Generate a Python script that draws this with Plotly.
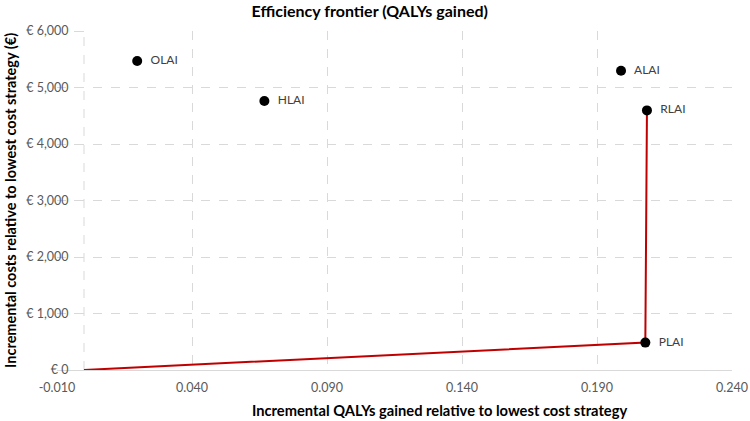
import plotly.graph_objects as go

strategies = ["OLAI", "HLAI", "ALAI", "RLAI", "PLAI"]
qalys = [0.0197, 0.0668, 0.1989, 0.2085, 0.2079]
costs = [5470, 4760, 5295, 4595, 485]

frontier_names = ["Lowest cost", "PLAI", "RLAI"]
frontier_qalys = [0.0, 0.2079, 0.2085]
frontier_costs = [0, 485, 4595]

x_ticks = [-0.010, 0.040, 0.090, 0.140, 0.190, 0.240]
y_ticks = [0, 1000, 2000, 3000, 4000, 5000, 6000]
y_tick_labels = ["€ 0", "€ 1,000", "€ 2,000", "€ 3,000", "€ 4,000", "€ 5,000", "€ 6,000"]

FONT = "Lato"
GRID = "#d9d9d9"
TICK = "#595959"

fig = go.Figure()
fig.add_trace(go.Scatter(
    x=frontier_qalys, y=frontier_costs, mode="lines",
    line=dict(color="#c00000", width=2), hoverinfo="skip", showlegend=False,
))
fig.add_trace(go.Scatter(
    x=qalys, y=costs, mode="markers+text", text=["  " + s for s in strategies],
    textposition="middle right", textfont=dict(family=FONT, size=12, color="#404040"),
    marker=dict(color="black", size=10), showlegend=False,
))

fig.add_shape(type="line", xref="x", yref="paper", x0=0, x1=0, y0=0, y1=1,
              line=dict(color=GRID, width=1, dash="dash"), layer="below")

fig.add_annotation(text="<b>Incremental QALYs gained relative to lowest cost strategy</b>",
                   xref="paper", yref="paper", x=0.567, y=-0.118, xanchor="center", yanchor="middle",
                   showarrow=False, font=dict(family=FONT, size=14.7, color="black"))
fig.add_annotation(text="<b>Incremental costs relative to lowest cost strategy (€)</b>",
                   xref="paper", yref="paper", x=-0.069, y=0.5, xanchor="center", yanchor="middle",
                   textangle=-90, showarrow=False, font=dict(family=FONT, size=14.5, color="black"))

fig.update_layout(
    width=750, height=421,
    margin=dict(l=57, r=18, t=31, b=51),
    plot_bgcolor="white", paper_bgcolor="white",
    title=dict(text="<b>Efficiency frontier (QALYs gained)</b>", x=0.493, xanchor="center",
               y=0.974, yanchor="middle", font=dict(family=FONT, size=16, color="black")),
    font=dict(family=FONT, size=12, color=TICK),
    xaxis=dict(
        range=[-0.010, 0.240], tickvals=x_ticks, ticktext=[f"{v:.3f}" for v in x_ticks],
        showgrid=True, gridcolor=GRID, griddash="dash", gridwidth=1,
        zeroline=False, showline=True, linecolor=GRID, linewidth=1,
        ticks="", ticklabelstandoff=6, automargin=False,
        tickfont=dict(family=FONT, size=12.5, color=TICK),
    ),
    yaxis=dict(
        range=[0, 6000], tickvals=y_ticks, ticktext=y_tick_labels,
        anchor="free", position=0.04, automargin=False,
        showgrid=True, gridcolor=GRID, griddash="dash", gridwidth=1,
        zeroline=False, showline=False,
        ticks="outside", ticklen=10, tickcolor=GRID, ticklabelstandoff=3,
        tickfont=dict(family=FONT, size=12.5, color=TICK),
    ),
)

fig.write_html("out.html", post_script="document.body.style.margin='0';",
               config={"displayModeBar": False})
